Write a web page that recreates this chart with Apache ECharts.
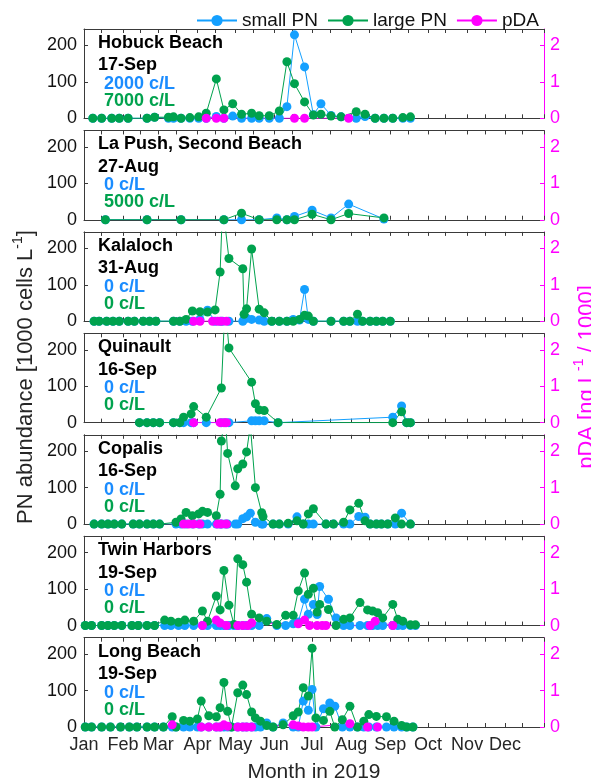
<!DOCTYPE html>
<html><head><meta charset="utf-8">
<script src="https://cdn.jsdelivr.net/npm/echarts@6/dist/echarts.min.js"></script>
<style>html,body{margin:0;padding:0;background:#fff}#c{width:591px;height:781px}</style>
</head><body><div id="c"></div>
<script>
// x values: day of 2019 (Jan 1 = 0)
const monthNames = ['Jan','Feb','Mar','Apr','May','Jun','Jul','Aug','Sep','Oct','Nov','Dec'];
const monthStarts = [0,31,59,90,120,151,181,212,243,273,304,334];
const tickDays = [0,14,31,45,59,73,90,104,120,134,151,165,181,195,212,226,243,257,273,287,304,318,334,348,365];
const leftTicks = [0,100,200];
const rightTicks = [0,1,2];

const hobuckDays  = [7,14,22,28,35,50,56,67,71,77,84,91,97,105,111,118,125,133,139,147,155,161,167,175,182,188,196,204,216,223,231,238,245,253,259];
const hobuckLarge = [0,0,0,0,0,0,3,3,4,0,2,4,14,108,23,40,11,14,7,7,20,155,95,45,9,11,6,4,18,11,0,0,0,2,4];
const hobuckSmall = [0,0,0,0,0,0,3,0,0,0,0,0,0,5,0,6,0,0,0,0,0,32,229,141,10,40,8,4,0,5,0,0,0,0,0];
const hobuckPdaDays = [97,105,111,167,175,210];
const hobuckPda     = [0,0,0,0,0,0];

const lapushDays  = [17,50,77,111,125,139,153,161,167,181,196,210,238];
const lapushLarge = [0,0,0,0,18,0,0,0,0,15,0,17,5];
const lapushSmall = [0,0,0,0,0,0,5,0,9,26,5,43,2];
const lapushPdaDays = [];
const lapushPda     = [];

const kalalochDays  = [8,12,18,23,28,35,40,47,52,57,71,76,81,86,92,98,104,108,110,115,126,127,129,133,139,143,149,155,161,166,171,175,178,182,196,206,211,217,221,227,232,237,243];
const kalalochLarge = [0,0,0,0,0,0,0,0,0,0,0,0,5,28,26,25,31,135,320,172,144,19,34,198,33,23,0,0,0,0,5,16,14,0,0,0,0,19,0,0,0,0,0];
const kalalochSmall = [0,0,0,0,0,0,0,0,0,0,0,0,0,0,5,30,0,0,0,0,0,5,8,5,3,0,0,0,0,5,3,87,5,0,0,0,0,0,0,0,0,0,0];
const kalalochPdaDays = [87,92,102,106,109,113];
const kalalochPda     = [0,0,0,0,0,0];

const quinaultDays  = [44,50,55,60,71,76,79,85,87,97,109,112,115,133,136,139,143,154,245,252,256,259];
const quinaultLarge = [0,0,0,0,0,0,15,24,44,15,95,330,205,111,52,35,33,0,0,30,0,0];
const quinaultSmall = [0,0,0,0,0,0,0,0,0,0,0,0,0,5,5,5,5,0,15,46,0,0];
const quinaultPdaDays = [87,108,111,113];
const quinaultPda     = [0,0,0,0];

const copalisDays  = [8,14,19,24,30,39,44,50,55,60,73,77,81,86,91,94,98,105,108,109,112,114,120,122,126,129,132,136,141,142,150,155,162,169,174,178,182,192,198,206,211,218,223,227,232,236,241,247,252,259];
const copalisLarge = [0,0,0,0,0,0,0,0,0,0,5,14,32,23,28,35,32,23,82,228,300,194,105,152,165,198,270,100,31,21,0,0,2,9,0,28,42,0,0,5,39,57,9,0,0,0,0,17,0,0];
const copalisSmall = [0,0,0,0,0,0,0,0,0,0,0,0,0,0,0,0,0,0,0,0,0,0,0,0,15,20,30,5,0,0,0,0,0,20,0,0,0,0,0,0,0,21,19,0,0,0,0,0,30,0];
const copalisPdaDays = [79,83,87,92,106,109,113];
const copalisPda     = [0,0,0,0,0,0,0];

const twinDays  = [1,6,14,19,24,30,38,43,50,56,64,69,75,80,87,94,98,105,108,111,115,119,122,126,129,133,139,145,153,160,166,170,175,178,182,185,187,194,200,206,211,219,225,229,233,237,245,249,253,259,263];
const twinLarge = [0,0,0,0,0,0,0,0,0,0,15,12,9,15,12,40,12,81,43,151,56,3,183,167,119,31,21,12,3,28,28,95,144,86,102,37,58,44,0,17,21,63,43,40,35,21,58,17,12,2,2];
const twinSmall = [0,0,0,0,0,0,0,0,0,0,0,0,0,0,0,0,0,0,0,0,0,0,0,0,0,0,0,19,0,0,5,10,72,31,58,30,107,72,21,0,0,0,0,0,0,0,0,0,0,0,0];
const twinPdaDays = [94,105,108,113,122,126,130,133,170,175,179,185,189,192,227,231,245];
const twinPda     = [0,0.15,0.07,0,0,0,0,0.07,0.05,0.15,0,0,0,0,0,0.12,0];

const longDays  = [1,6,14,21,29,36,42,50,56,63,70,73,79,84,90,93,99,105,108,111,114,117,122,126,129,133,136,140,145,150,158,166,170,174,178,181,184,190,195,199,205,211,217,222,226,232,240,246,252,256,261];
const longLarge = [0,0,0,0,0,0,0,0,0,0,28,0,18,16,22,71,31,28,53,122,43,0,94,115,89,41,25,16,4,0,6,31,41,108,85,216,25,18,43,0,20,57,0,16,34,29,28,16,4,0,0];
const longSmall = [0,0,0,0,0,0,0,0,0,0,0,0,0,0,0,0,0,0,0,0,0,0,0,0,0,0,0,0,11,0,11,0,0,71,46,103,0,50,66,57,0,0,0,0,0,0,0,0,0,0,0];
const longPdaDays = [70,93,99,105,108,111,114,122,126,129,133,166,170,174,178,181,211,225,233];
const longPda     = [0.06,0,0,0,0,0.06,0.02,0,0,0,0,0.06,0.03,0,0,0,0.09,0,0];

const siteNames = ['Hobuck Beach','La Push, Second Beach','Kalaloch','Quinault','Copalis','Twin Harbors','Long Beach'];
const siteDates = ['17-Sep','27-Aug','31-Aug','16-Sep','16-Sep','19-Sep','19-Sep'];
const siteSmallCount = ['2000 c/L','0 c/L','0 c/L','0 c/L','0 c/L','0 c/L','0 c/L'];
const siteLargeCount = ['7000 c/L','5000 c/L','0 c/L','0 c/L','0 c/L','0 c/L','0 c/L'];

const sites = [
  [hobuckDays,hobuckSmall,hobuckLarge,hobuckPdaDays,hobuckPda],
  [lapushDays,lapushSmall,lapushLarge,lapushPdaDays,lapushPda],
  [kalalochDays,kalalochSmall,kalalochLarge,kalalochPdaDays,kalalochPda],
  [quinaultDays,quinaultSmall,quinaultLarge,quinaultPdaDays,quinaultPda],
  [copalisDays,copalisSmall,copalisLarge,copalisPdaDays,copalisPda],
  [twinDays,twinSmall,twinLarge,twinPdaDays,twinPda],
  [longDays,longSmall,longLarge,longPdaDays,longPda]
];

const BLUE = '#14a0ff', BLUE_T = '#1a8cff', GREEN = '#00a24e', MAG = '#ff00ff', FRAME = '#3a3a3a', TXT = '#262626';
const FONT = '"Liberation Sans", Arial, Helvetica, sans-serif';
const L = 84, R = 47, TOP0 = 29, PITCH = 101.45, H = 89.3;

const zip = (a, b) => a.map((v, i) => [v, b[i]]);
const grids = [], xAxes = [], yAxes = [], series = [], graphics = [];

sites.forEach((s, i) => {
  const top = TOP0 + PITCH * i;
  const last = i === sites.length - 1;
  grids.push({left: L, right: R, top: top, height: H});
  const xBase = {
    type: 'value', gridIndex: i, min: 0, max: 365,
    splitLine: {show: false},
    axisLine: {show: true, onZero: false, lineStyle: {color: FRAME, width: 1}},
    axisTick: {show: true, inside: true, length: 4, customValues: tickDays, lineStyle: {color: FRAME}}
  };
  xAxes.push(Object.assign({}, xBase, {
    position: 'bottom',
    axisLabel: last ? {show: true, customValues: monthStarts, margin: 9, color: TXT, fontSize: 18, fontFamily: FONT,
      formatter: v => monthNames[monthStarts.indexOf(Math.round(v))] || ''} : {show: false}
  }));
  xAxes.push(Object.assign({}, xBase, {position: 'top', axisLabel: {show: false}}));
  yAxes.push({
    type: 'value', gridIndex: i, position: 'left', min: 0, max: 245,
    splitLine: {show: false},
    axisLine: {show: true, onZero: false, lineStyle: {color: FRAME, width: 1}},
    axisTick: {show: true, inside: true, length: 4, customValues: leftTicks, lineStyle: {color: FRAME}},
    axisLabel: {customValues: leftTicks, margin: 7, color: '#111', fontSize: 18, fontFamily: FONT}
  });
  yAxes.push({
    type: 'value', gridIndex: i, position: 'right', min: 0, max: 2.45,
    splitLine: {show: false},
    axisLine: {show: true, onZero: false, lineStyle: {color: MAG, width: 1}},
    axisTick: {show: true, inside: true, length: 4, customValues: rightTicks, lineStyle: {color: MAG}},
    axisLabel: {customValues: rightTicks, margin: 6, color: MAG, fontSize: 18, fontFamily: FONT}
  });
  const common = {type: 'line', xAxisIndex: 2 * i, symbol: 'circle', symbolSize: 9, showAllSymbol: true,
    clip: true, animation: false, emphasis: {disabled: true}, silent: true};
  series.push(Object.assign({}, common, {name: 'small PN', yAxisIndex: 2 * i, data: zip(s[0], s[1]),
    itemStyle: {color: BLUE}, lineStyle: {color: BLUE, width: 1}}));
  series.push(Object.assign({}, common, {name: 'large PN', yAxisIndex: 2 * i, data: zip(s[0], s[2]),
    itemStyle: {color: GREEN}, lineStyle: {color: GREEN, width: 1}}));
  series.push(Object.assign({}, common, {name: 'pDA', yAxisIndex: 2 * i + 1, data: zip(s[3], s[4]),
    itemStyle: {color: MAG}, lineStyle: {color: MAG, width: 1}}));

  const tf = {fontFamily: FONT, fontWeight: 'bold', fontSize: 18, verticalAlign: 'middle', align: 'left'};
  graphics.push({type: 'text', x: 98, y: top + 14, style: Object.assign({text: siteNames[i], fill: '#000'}, tf)});
  graphics.push({type: 'text', x: 98, y: top + 36.5, style: Object.assign({text: siteDates[i], fill: '#000'}, tf)});
  graphics.push({type: 'text', x: 104, y: top + 55, style: Object.assign({text: siteSmallCount[i], fill: BLUE_T}, tf)});
  graphics.push({type: 'text', x: 104, y: top + 72, style: Object.assign({text: siteLargeCount[i], fill: GREEN}, tf)});
});

graphics.push({type: 'text', x: 314, y: 772, style: {text: 'Month in 2019', fill: TXT, fontFamily: FONT, fontSize: 21, align: 'center', verticalAlign: 'middle'}});
graphics.push({type: 'text', x: 24, y: 377, rotation: Math.PI / 2, style: {
  text: '{n|PN abundance [1000 cells L}{s|-1}{n|]}', align: 'center', verticalAlign: 'middle',
  rich: {n: {fontFamily: FONT, fontSize: 22, fill: TXT, lineHeight: 25, verticalAlign: 'bottom'},
         s: {fontFamily: FONT, fontSize: 14, fill: TXT, lineHeight: 25, verticalAlign: 'top'}}}});
graphics.push({type: 'text', x: 585, y: 377, rotation: Math.PI / 2, style: {
  text: '{n|pDA [ng L}{s|-1}{n| / 1000]}', align: 'center', verticalAlign: 'middle',
  rich: {n: {fontFamily: FONT, fontSize: 22, fill: MAG, lineHeight: 25, verticalAlign: 'bottom'},
         s: {fontFamily: FONT, fontSize: 14, fill: MAG, lineHeight: 25, verticalAlign: 'top'}}}});

const chart = echarts.init(document.getElementById('c'), null, {renderer: 'canvas'});
chart.setOption({
  animation: false,
  backgroundColor: '#fff',
  legend: {data: ['small PN', 'large PN', 'pDA'], left: 191, top: 6, itemWidth: 40, itemHeight: 14, itemGap: 9,
    textStyle: {fontFamily: FONT, fontSize: 19, color: '#111'}, selectedMode: false},
  grid: grids, xAxis: xAxes, yAxis: yAxes, series: series, graphic: graphics
});
</script></body></html>
